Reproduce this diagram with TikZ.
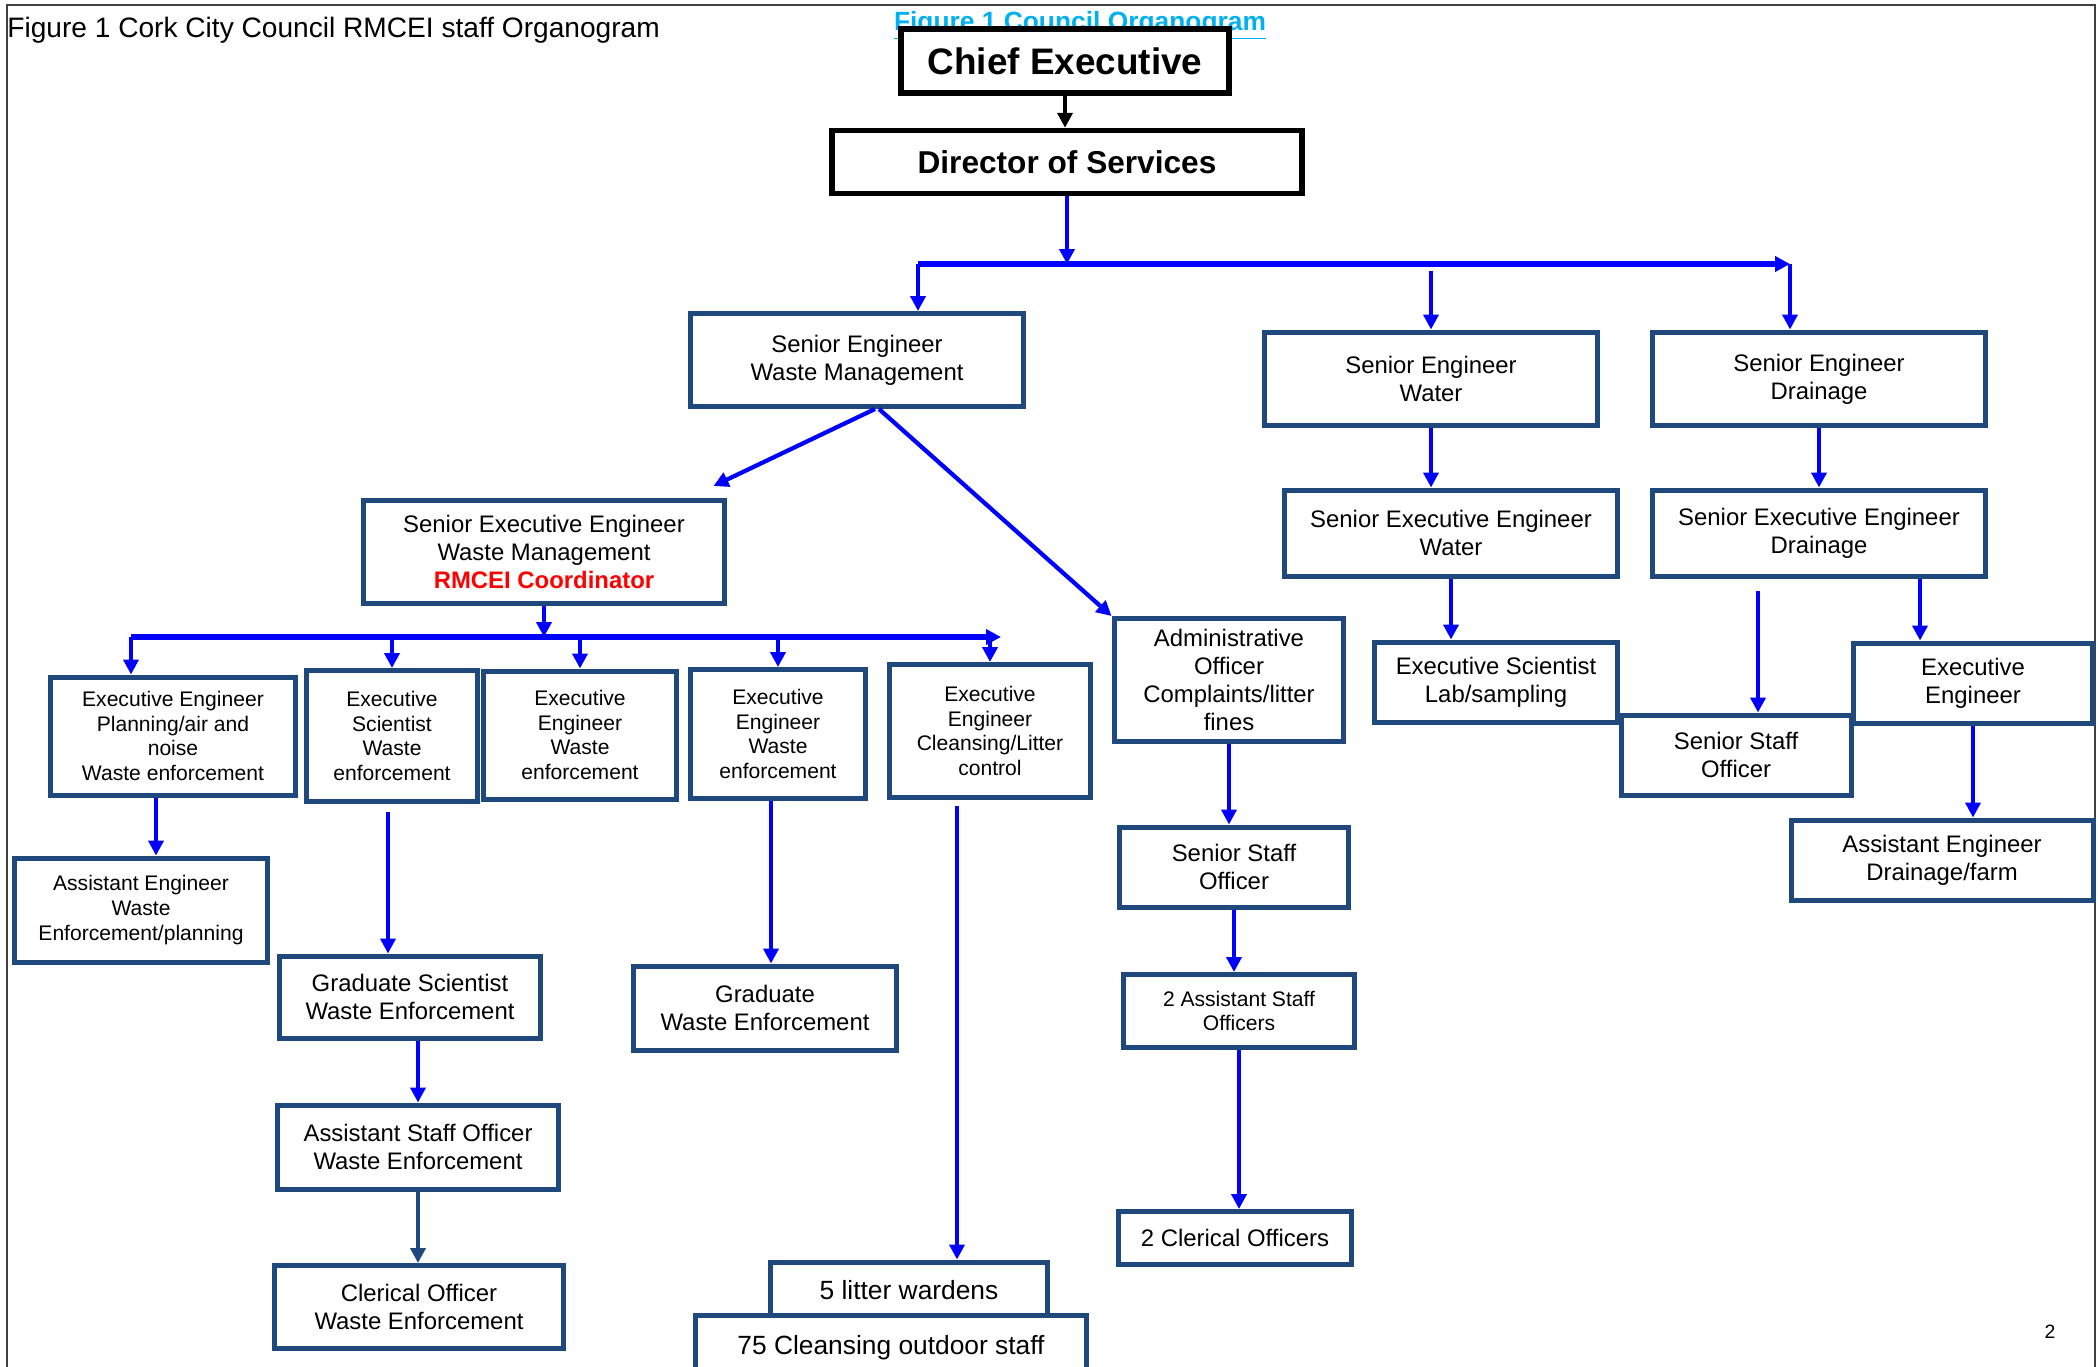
\documentclass[tikz,border=0pt]{standalone}
\usepackage{fontspec}
\setmainfont{Liberation Sans}
\usepackage{xcolor}
\usetikzlibrary{arrows.meta,calc}
\definecolor{boxblue}{RGB}{31,73,125}
\definecolor{figcyan}{RGB}{0,176,240}

\tikzset{
    box/.style={draw=boxblue, line width=0.1cm, fill=white, align=center, inner sep=1pt, font=\fontsize{13.6}{16}\selectfont},
    smallbox/.style={box, font=\fontsize{12}{14}\selectfont},
    litterbox/.style={box, font=\fontsize{15}{18}\selectfont},
    topbox/.style={draw=black, line width=0.11cm, fill=white, inner sep=1pt, font=\bfseries\fontsize{21}{25}\selectfont},
    arr/.style={blue, line width=0.085cm, -{Triangle[length=0.3cm,width=0.3cm]}},
    bus/.style={arr, line width=0.11cm},
    blackarr/.style={arr, black},
    navyarr/.style={arr, boxblue}
}

\begin{document}
\begin{tikzpicture}[x=0.02cm, y=-0.02cm]
        \path[use as bounding box, clip] (0,0) rectangle (2098,1366);
        \draw[black!75, line width=0.05cm] (7,1400) -- (7,5) -- (2095,5) -- (2095,1400);

        \node[anchor=west, inner sep=0, font=\fontsize{16}{19}\selectfont] (title) at (7,30) {Figure 1 Cork City Council RMCEI staff Organogram};
        \node[anchor=base, inner sep=0, text=figcyan, font=\bfseries\fontsize{15}{18}\selectfont] (figcap) at (1080,30) {\underline{Figure 1 Council Organogram}};
        \node[font=\fontsize{11}{13}\selectfont] (pagenum) at (2050,1332) {2};

        \node[topbox, minimum width=6.56cm, minimum height=1.28cm] (ce) at (1065,61) {Chief Executive};
        \node[topbox, minimum width=9.4cm, minimum height=1.26cm, font=\bfseries\fontsize{18}{22}\selectfont] (dos) at (1067,162) {Director of Services};

        \node[box, minimum width=6.68cm, minimum height=1.86cm] (sewm) at (857,360) {Senior Engineer\\Waste Management};
        \node[box, minimum width=6.68cm, minimum height=1.88cm] (sew) at (1431,379) {Senior Engineer\\Water};
        \node[box, minimum width=6.68cm, minimum height=1.88cm] (sed) at (1819,379) {Senior Engineer\\Drainage};
        \node[box, minimum width=6.66cm, minimum height=1.72cm] (seew) at (1451,533) {Senior Executive Engineer\\Water};
        \node[box, minimum width=6.68cm, minimum height=1.72cm] (seed) at (1819,533) {Senior Executive Engineer\\Drainage};
        \node[box, minimum width=4.86cm, minimum height=1.6cm] (esl) at (1496,682) {Executive Scientist\\Lab/sampling};
        \node[box, minimum width=4.6cm, minimum height=1.6cm] (ssor) at (1736,755) {Senior Staff\\Officer};
        \node[box, minimum width=4.78cm, minimum height=1.6cm] (eer) at (1973,683) {Executive\\Engineer};
        \node[box, minimum width=6.04cm, minimum height=1.6cm] (aed) at (1942,860) {Assistant Engineer\\Drainage/farm};

        \node[box, minimum width=7.24cm, minimum height=2.06cm] (seewm) at (544,552) {Senior Executive Engineer\\Waste Management\\{\color{red}\bfseries RMCEI Coordinator}};
        \node[box, minimum width=4.6cm, minimum height=2.46cm] (ao) at (1229,680) {Administrative\\Officer\\Complaints/litter\\fines};
        \node[box, minimum width=4.6cm, minimum height=1.6cm] (ssom) at (1234,867) {Senior Staff\\Officer};
        \node[smallbox, minimum width=4.64cm, minimum height=1.46cm] (asos) at (1239,1011) {2 Assistant Staff\\Officers};
        \node[box, minimum width=4.66cm, minimum height=1.06cm] (cler) at (1235,1238) {2 Clerical Officers};

        \node[smallbox, minimum width=4.92cm, minimum height=2.36cm] (eep) at (173,736) {Executive Engineer\\Planning/air and\\noise\\Waste enforcement};
        \node[smallbox, minimum width=3.42cm, minimum height=2.62cm] (esw) at (392,736) {Executive\\Scientist\\Waste\\enforcement};
        \node[smallbox, minimum width=3.86cm, minimum height=2.56cm] (eewa) at (580,735) {Executive\\Engineer\\Waste\\enforcement};
        \node[smallbox, minimum width=3.52cm, minimum height=2.58cm] (eewb) at (778,734) {Executive\\Engineer\\Waste\\enforcement};
        \node[smallbox, minimum width=4.02cm, minimum height=2.66cm] (eec) at (990,731) {Executive\\Engineer\\Cleansing/Litter\\control};
        \node[smallbox, minimum width=5.08cm, minimum height=2.08cm] (aew) at (141,910) {Assistant Engineer\\Waste\\Enforcement/planning};
        \node[box, minimum width=5.24cm, minimum height=1.64cm] (gsw) at (410,997) {Graduate Scientist\\Waste Enforcement};
        \node[box, minimum width=5.28cm, minimum height=1.68cm] (gwe) at (765,1008) {Graduate\\Waste Enforcement};
        \node[box, minimum width=5.62cm, minimum height=1.68cm] (asow) at (418,1147) {Assistant Staff Officer\\Waste Enforcement};
        \node[box, minimum width=5.8cm, minimum height=1.66cm] (cow) at (419,1307) {Clerical Officer\\Waste Enforcement};
        \node[litterbox, minimum width=5.54cm, minimum height=1.12cm] (lw) at (909,1290) {5 litter wardens};
        \node[litterbox, minimum width=7.84cm, minimum height=1.32cm] (cos) at (891,1348) {75 Cleansing outdoor staff};

        \coordinate (busT) at (1065,264);
        \coordinate (busTL) at (918,264);
        \coordinate (busTR) at (1790,264);
        \coordinate (busL) at (547,637);
        \coordinate (busLL) at (131,637);
        \coordinate (busLR) at (1001,637);
        \coordinate (xss) at (1758,0);
        \coordinate (xee) at (1920,0);
        \coordinate (xep) at (156,0);
        \coordinate (xes) at (388,0);
        \coordinate (xgw) at (771,0);
        \coordinate (xlw) at (957,0);

        \draw[blackarr] (ce.south) -- (ce.south |- dos.north);
        \draw[arr] (dos.south) -- (dos.south |- busT);
        \draw[bus] (busTL) -- (busTR);
        \draw[arr] (busTL) -- (busTL |- sewm.north);
        \draw[arr] ($(sew.north |- busT)+(0,7)$) -- (sew.north);
        \draw[arr] (busTR) -- (busTR |- sed.north);
        \draw[arr] (sew.south) -- (sew.south |- seew.north);
        \draw[arr] (sed.south) -- (sed.south |- seed.north);
        \draw[arr] (seew.south) -- (seew.south |- esl.north);
        \draw[arr] ($(xss |- seed.south)+(0,12)$) -- (xss |- ssor.north);
        \draw[arr] (xee |- seed.south) -- (xee |- eer.north);
        \draw[arr] (eer.south) -- (eer.south |- aed.north);

        \draw[arr] ($(sewm.south)+(18,0)$) -- ($(seewm.north east)+(-14,-12)$);
        \draw[arr] ($(sewm.south)+(22,0)$) -- (ao.north west);
        \draw[arr] (ao.south) -- (ao.south |- ssom.north);
        \draw[arr] (ssom.south) -- (ssom.south |- asos.north);
        \draw[arr] (asos.south) -- (asos.south |- cler.north);

        \draw[arr] (seewm.south) -- (seewm.south |- busL);
        \draw[bus] (busLL) -- (busLR);
        \draw[arr] (busLL) -- (busLL |- eep.north);
        \draw[arr] (esw.north |- busL) -- (esw.north);
        \draw[arr] (eewa.north |- busL) -- (eewa.north);
        \draw[arr] (eewb.north |- busL) -- (eewb.north);
        \draw[arr] (eec.north |- busL) -- (eec.north);
        \draw[arr] (xep |- eep.south) -- (xep |- aew.north);
        \draw[arr] ($(xes |- esw.south)+(0,8)$) -- (xes |- gsw.north);
        \draw[arr] (xgw |- eewb.south) -- (xgw |- gwe.north);
        \draw[arr] ($(xlw |- eec.south)+(0,6)$) -- (xlw |- lw.north);
        \draw[arr] (asow.north |- gsw.south) -- (asow.north);
        \draw[navyarr] (asow.south) -- (asow.south |- cow.north);
    \end{tikzpicture}
\end{document}
